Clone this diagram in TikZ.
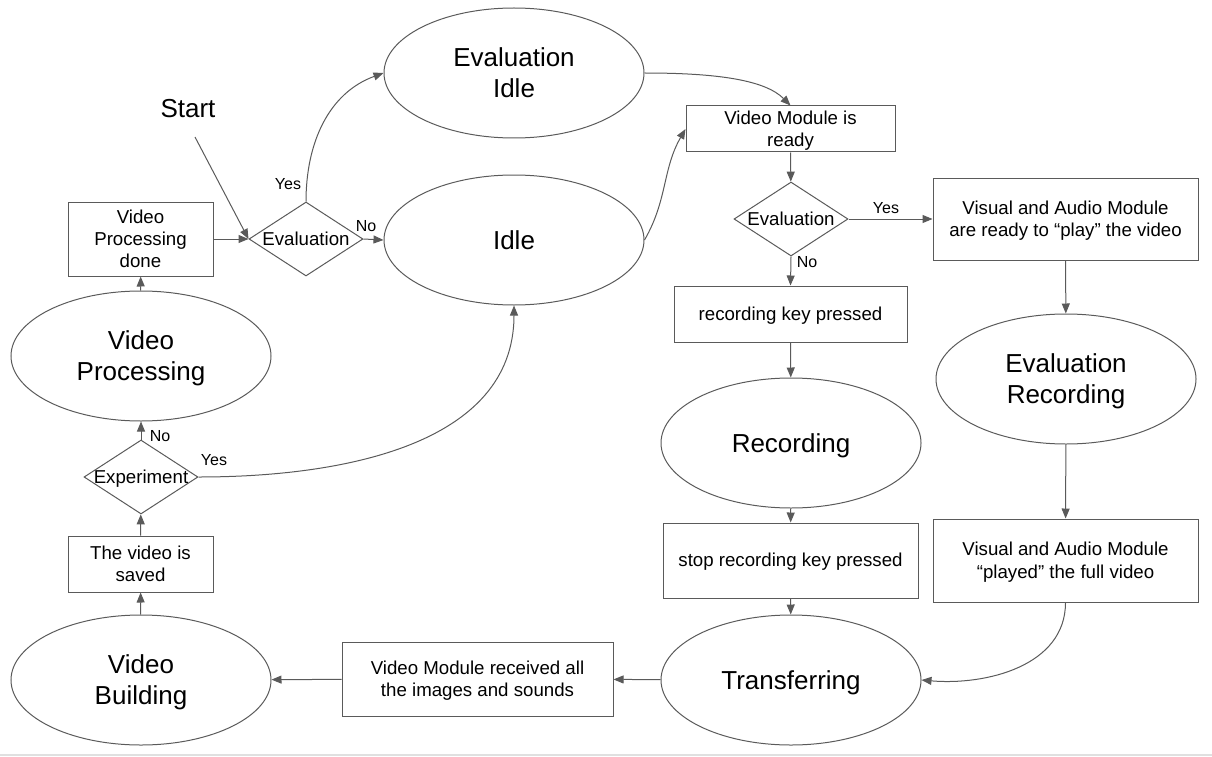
\documentclass[tikz,border=0pt]{standalone}
\usepackage{fontspec}
\setmainfont{Liberation Sans}
\usetikzlibrary{shapes.geometric,arrows.meta}
\definecolor{ln}{HTML}{5A5A5A}
\newcommand\topst{\rule{0pt}{0.905em}}
\tikzset{
  lineboxes/.style={execute at begin node={\rule{0pt}{0.905em}}, execute at end node={\rule[-0.212em]{0pt}{0.212em}}},
  big/.style={font=\fontsize{19.5}{23.3}\selectfont},
  mid/.style={font=\fontsize{14}{16.8}\selectfont},
  lbl/.style={font=\fontsize{12}{14}\selectfont, inner sep=0pt},
  state/.style={ellipse, draw=ln, line width=0.75pt, minimum width=195pt, minimum height=97.5pt, inner sep=0pt, big, align=center, lineboxes},
  box/.style={rectangle, draw=ln, line width=0.75pt, inner sep=0pt, mid, align=center, lineboxes},
  dec/.style={diamond, draw=ln, line width=0.75pt, minimum width=85.5pt, minimum height=55.5pt, inner sep=0pt, mid, lineboxes},
  arr/.style={draw=ln, line width=0.75pt, -{Triangle[length=7.5pt,width=6pt]}},
}
\begin{document}
\begin{tikzpicture}[x=0.75pt,y=-0.75pt]
\useasboundingbox (0,0) rectangle (1212,756);
\draw[color=black!12, line width=1.5pt] (0,755) -- (1212,755);

\node[big, inner sep=0pt] (start) at (188,109) {Start};
\coordinate (s0) at (195,137);

\node[state] (ei) at (514,73) {\topst Evaluation\\Idle};
\node[state] (idle) at (514,240) {Idle};
\node[dec] (e1) at (306,239) {\makebox[0pt][c]{Evaluation}};
\node[box, minimum width=108.75pt, minimum height=55.5pt] (vpd) at (140.5,239) {\topst Video\\Processing\\done};
\node[state] (vp) at (141,356) {\topst Video\\Processing};
\node[dec] (ex) at (141,477) {\makebox[0pt][c]{Experiment}};
\node[box, minimum width=108.75pt, minimum height=42pt] (sav) at (140.5,564) {\topst The video is\\saved};
\node[state] (vb) at (141,680) {\topst Video\\Building};
\node[box, minimum width=203.25pt, minimum height=55.5pt] (rec) at (477.5,679) {\topst Video Module received all\\the images and sounds};
\node[state] (tr) at (791,680) {Transferring};
\node[box, minimum width=191.25pt, minimum height=56.25pt] (stop) at (790.5,560.5) {stop recording key pressed};
\node[state] (rcd) at (791,443) {Recording};
\node[box, minimum width=174.75pt, minimum height=42pt] (rk) at (790.5,314) {recording key pressed};
\node[dec] (e2) at (791,219) {\makebox[0pt][c]{Evaluation}};
\node[box, minimum width=156.75pt, minimum height=34.5pt] (vm) at (790.5,129) {\topst Video Module is\\ready};
\node[box, minimum width=198.75pt, minimum height=61.5pt] (var) at (1065.5,219) {\topst Visual and Audio Module\\are ready to “play” the video};
\node[state] (er) at (1066,379) {\topst Evaluation\\Recording};
\node[box, minimum width=198.75pt, minimum height=62.25pt] (vap) at (1065.5,560.5) {\topst Visual and Audio Module\\“played” the full video};

\draw[arr] (s0) -- (e1.west);
\draw[arr] (vpd) -- (e1);
\draw[arr] (e1.north) to[out=90,in=200] (ei.west);
\draw[arr] (e1.east) -- (idle.west);
\draw[arr] (ei.east) .. controls +(75,0) and +(-25,-25) .. (vm.north);
\draw[arr] (idle.east) to[out=60,in=240] (vm.west);
\draw[arr] (vm) -- (e2);
\draw[arr] (e2.east) -- (var.west);
\draw[arr] (e2.south) -- (rk.north);
\draw[arr] (rk) -- (rcd);
\draw[arr] (rcd) -- (stop);
\draw[arr] (stop) -- (tr);
\draw[arr] (var) -- (er);
\draw[arr] (er) -- (vap);
\draw[arr] (vap.south) to[out=-90,in=-5] (tr.east);
\draw[arr] (tr) -- (rec);
\draw[arr] (rec) -- (vb);
\draw[arr] (vb) -- (sav);
\draw[arr] (sav) -- (ex);
\draw[arr] (ex.north) -- (vp.south);
\draw[arr] (ex.east) to[out=0,in=-90] (idle.south);
\draw[arr] (vp) -- (vpd);

\node[lbl] (l1) at (288,184) {Yes};
\node[lbl] (l2) at (366,226) {No};
\node[lbl] (l3) at (886,208) {Yes};
\node[lbl] (l4) at (807,262) {No};
\node[lbl] (l5) at (160,436) {No};
\node[lbl] (l6) at (214,460) {Yes};
\end{tikzpicture}
\end{document}
